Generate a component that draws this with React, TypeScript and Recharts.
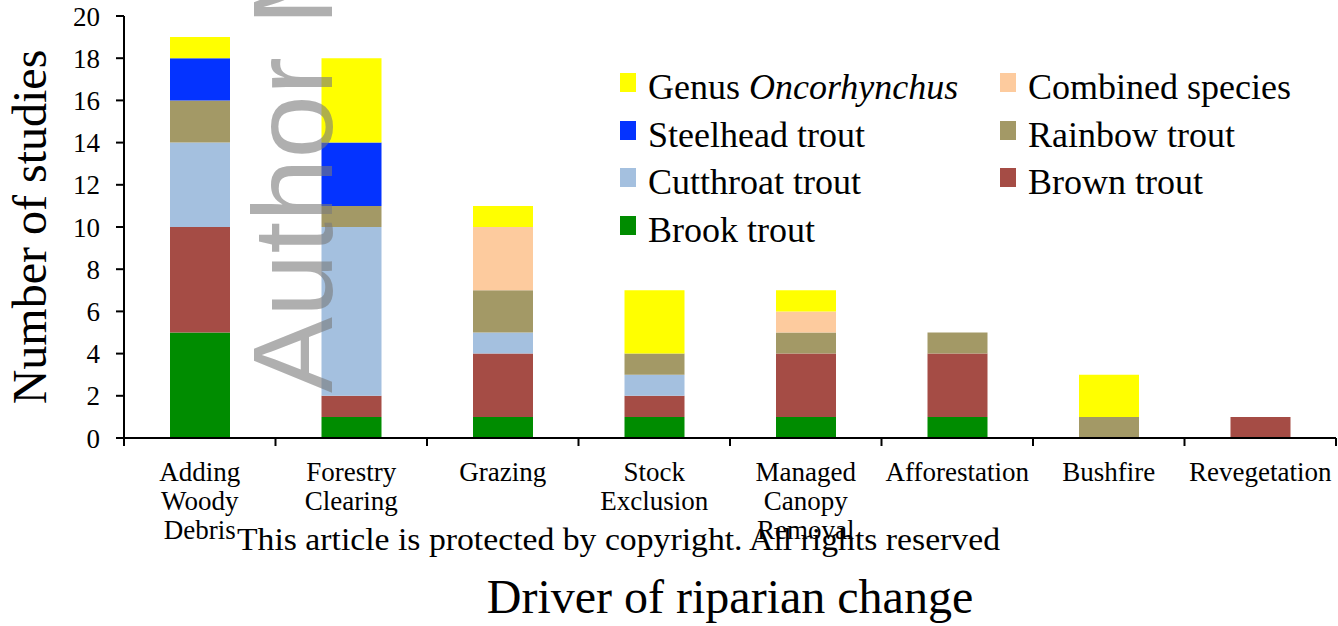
import React from "react";
import { BarChart, Bar, XAxis, YAxis, Legend } from "recharts";

const categories = [
  "Adding\nWoody\nDebris",
  "Forestry\nClearing",
  "Grazing",
  "Stock\nExclusion",
  "Managed\nCanopy\nRemoval",
  "Afforestation",
  "Bushfire",
  "Revegetation",
];
const brookTrout = [5, 1, 1, 1, 1, 1, 0, 0];
const brownTrout = [5, 1, 3, 1, 3, 3, 0, 1];
const cutthroatTrout = [4, 8, 1, 1, 0, 0, 0, 0];
const rainbowTrout = [2, 1, 2, 1, 1, 1, 1, 0];
const combinedSpecies = [0, 0, 3, 0, 1, 0, 0, 0];
const steelheadTrout = [2, 3, 0, 0, 0, 0, 0, 0];
const genusOncorhynchus = [1, 4, 1, 3, 1, 0, 2, 0];
const yTicks = [0, 2, 4, 6, 8, 10, 12, 14, 16, 18, 20];

const series = [
  { key: "brook", name: "Brook trout", color: "#008C00", values: brookTrout },
  { key: "brown", name: "Brown trout", color: "#A54C45", values: brownTrout },
  { key: "cutthroat", name: "Cutthroat trout", color: "#A4C0DF", values: cutthroatTrout },
  { key: "rainbow", name: "Rainbow trout", color: "#A39966", values: rainbowTrout },
  { key: "combined", name: "Combined species", color: "#FDCB9E", values: combinedSpecies },
  { key: "steelhead", name: "Steelhead trout", color: "#0433FF", values: steelheadTrout },
  { key: "genus", name: "Genus Oncorhynchus", color: "#FFFF00", values: genusOncorhynchus },
];

// legend grid placement: [seriesKey, column, row]
const legendLayout: [string, number, number][] = [
  ["genus", 0, 0],
  ["combined", 1, 0],
  ["steelhead", 0, 1],
  ["rainbow", 1, 1],
  ["cutthroat", 0, 2],
  ["brown", 1, 2],
  ["brook", 0, 3],
];

const data = categories.map((c, i) => {
  const row: any = { category: c };
  series.forEach((s) => (row[s.key] = s.values[i]));
  return row;
});

const W = 1338;
const H = 626;
const Y_AXIS_W = 124;
const RIGHT = 2;
const BAND = (W - Y_AXIS_W - RIGHT) / categories.length;
const SERIF = "'Liberation Serif', 'Times New Roman', serif";

const XTick = (props: any) => {
  const { x, y, payload, index } = props;
  const lines = String(payload.value).split("\n");
  const half = BAND / 2;
  return (
    <g>
      <line x1={x - half} x2={x - half} y1={y} y2={y + 8} stroke="#000" strokeWidth={2} />
      {index === categories.length - 1 && (
        <line x1={x + half} x2={x + half} y1={y} y2={y + 8} stroke="#000" strokeWidth={2} />
      )}
      <text x={x} y={y + 43} textAnchor="middle" fontFamily={SERIF} fontSize={27} fill="#000">
        {lines.map((l, i) => (
          <tspan key={i} x={x} dy={i === 0 ? 0 : 29}>
            {l}
          </tspan>
        ))}
      </text>
    </g>
  );
};

const LegendContent = () => (
  <div
    style={{
      position: "relative",
      width: 720,
      height: 200,
      fontFamily: SERIF,
      fontSize: 36,
      color: "#000",
    }}
  >
    {legendLayout.map(([key, col, row]) => {
      const s = series.find((z) => z.key === key)!;
      const parts = s.name.split(" ");
      const italic = key === "genus";
      return (
        <div
          key={key}
          style={{
            position: "absolute",
            left: col * 380,
            top: row * 47.5,
            height: 47.5,
            lineHeight: "47.5px",
            whiteSpace: "nowrap",
            paddingLeft: 28,
          }}
        >
          <span
            style={{
              position: "absolute",
              left: 0,
              top: 9,
              width: 16,
              height: 19,
              background: s.color,
            }}
          />
          {italic ? (
            <>
              {parts[0]} <i>{parts.slice(1).join(" ")}</i>
            </>
          ) : (
            s.name
          )}
        </div>
      );
    })}
  </div>
);

const YLabel = (props: any) => {
  const vb = props.viewBox || { x: 0, y: 16, width: 124, height: 422 };
  const cx = 46;
  const cy = vb.y + vb.height / 2;
  return (
    <text
      x={cx}
      y={cy}
      transform={`rotate(-90, ${cx}, ${cy})`}
      textAnchor="middle"
      fontFamily={SERIF}
      fontSize={48}
      fill="#000"
    >
      Number of studies
    </text>
  );
};

const XLabel = (props: any) => {
  const vb = props.viewBox || { x: 124, y: 438, width: 1212, height: 188 };
  return (
    <text
      x={vb.x + vb.width / 2}
      y={613}
      textAnchor="middle"
      fontFamily={SERIF}
      fontSize={48}
      fill="#000"
    >
      Driver of riparian change
    </text>
  );
};

export default function App() {
  return (
    <div style={{ position: "absolute", left: 0, top: 0, width: W, height: H, background: "#fff" }}>
      <BarChart
        width={W}
        height={H}
        data={data}
        margin={{ top: 16, right: RIGHT, bottom: 0, left: 0 }}
        barCategoryGap={0}
      >
        <XAxis
          dataKey="category"
          interval={0}
          height={188}
          tickLine={false}
          tickSize={0}
          tickMargin={0}
          axisLine={{ stroke: "#000", strokeWidth: 2 }}
          tick={<XTick />}
          label={<XLabel />}
        />
        <YAxis
          width={Y_AXIS_W}
          domain={[0, 20]}
          ticks={yTicks}
          interval={0}
          tickSize={8}
          tickMargin={16}
          axisLine={{ stroke: "#000", strokeWidth: 2 }}
          tickLine={{ stroke: "#000", strokeWidth: 2 }}
          tick={{ fontFamily: SERIF, fontSize: 27, fill: "#000" }}
          label={<YLabel />}
        />
        <Legend
          layout="vertical"
          align="center"
          verticalAlign="middle"
          content={<LegendContent />}
          wrapperStyle={{ position: "absolute", left: 620, top: 64, width: 720, height: 200 }}
        />
        {series.map((s) => (
          <Bar
            key={s.key}
            dataKey={s.key}
            name={s.name}
            stackId="a"
            fill={s.color}
            barSize={60}
            isAnimationActive={false}
          />
        ))}
      </BarChart>
      <svg
        width={W}
        height={H}
        style={{ position: "absolute", left: 0, top: 0, pointerEvents: "none" }}
      >
        <text
          x={332}
          y={393}
          transform="rotate(-90, 332, 393)"
          fontFamily="'Liberation Sans', Arial, sans-serif"
          fontSize={114}
          fill="#7a7a7a"
          fillOpacity={0.6}
        >
          Author Manuscript
        </text>
        <text
          x={237}
          y={550}
          fontFamily={SERIF}
          fontSize={32}
          fill="#000"
          textLength={763}
          lengthAdjust="spacingAndGlyphs"
        >
          This article is protected by copyright. All rights reserved
        </text>
      </svg>
    </div>
  );
}
